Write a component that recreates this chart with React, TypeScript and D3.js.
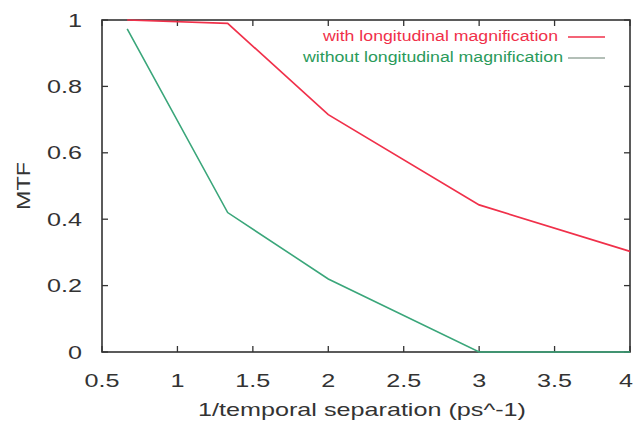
import React from "react";
import * as d3 from "d3";

const xValues = [0.667, 1.333, 2, 3, 4];
const withMag = [1.0, 0.99, 0.715, 0.443, 0.303];
const withoutMag = [0.973, 0.42, 0.22, 0.0, 0.0];
const xTicks = [0.5, 1, 1.5, 2, 2.5, 3, 3.5, 4];
const yTicks = [0, 0.2, 0.4, 0.6, 0.8, 1];
const seriesNames = ["with longitudinal magnification", "without longitudinal magnification"];

export default function App() {
  const W = 635, H = 425;
  const left = 102, right = 630, top = 20, bottom = 352;
  const x = d3.scaleLinear().domain([0.5, 4]).range([left, right]);
  const y = d3.scaleLinear().domain([0, 1]).range([bottom, top]);
  const line = d3.line<[number, number]>().x(d => x(d[0])).y(d => y(d[1]));
  const redPts = xValues.map((v, i) => [v, withMag[i]] as [number, number]);
  const greenPts = xValues.map((v, i) => [v, withoutMag[i]] as [number, number]);
  const axisColor = "#333";
  const tl = 6;
  const sx = 1.4;
  const font = "Liberation Sans, Arial, sans-serif";
  return (
    <svg width={W} height={H} style={{ position: "absolute", left: 0, top: 0, background: "#fff" }} fontFamily={font}>
      <rect x={0} y={0} width={W} height={H} fill="#fff" />
      {xTicks.map(t => (
        <g key={"xt" + t}>
          <line x1={x(t)} x2={x(t)} y1={bottom} y2={bottom - tl} stroke={axisColor} strokeWidth={1.3} />
          <line x1={x(t)} x2={x(t)} y1={top} y2={top + tl} stroke={axisColor} strokeWidth={1.3} />
          <text transform={`translate(${Math.min(x(t), 626)},387) scale(${sx},1)`} textAnchor="middle" fontSize={18} fill="#333">{t}</text>
        </g>
      ))}
      {yTicks.map(t => (
        <g key={"yt" + t}>
          <line x1={left} x2={left + tl} y1={y(t)} y2={y(t)} stroke={axisColor} strokeWidth={1.3} />
          <line x1={right} x2={right - tl} y1={y(t)} y2={y(t)} stroke={axisColor} strokeWidth={1.3} />
          <text transform={`translate(82,${y(t) + 6.5}) scale(${sx},1)`} textAnchor="end" fontSize={18} fill="#333">{t}</text>
        </g>
      ))}
      <rect x={left} y={top} width={right - left} height={bottom - top} fill="none" stroke={axisColor} strokeWidth={1.6} />
      <path d={line(greenPts) || ""} fill="none" stroke="#3aa67a" strokeWidth={1.6} />
      <path d={line(redPts) || ""} fill="none" stroke="#f0304a" strokeWidth={1.7} />
      <text x={558} y={41} textAnchor="end" fontSize={14} fill="#f0304a" textLength={235} lengthAdjust="spacingAndGlyphs">{seriesNames[0]}</text>
      <line x1={568} x2={605} y1={37} y2={37} stroke="#f0304a" strokeWidth={1.3} />
      <text x={563} y={62} textAnchor="end" fontSize={14} fill="#2a9a5a" textLength={260} lengthAdjust="spacingAndGlyphs">{seriesNames[1]}</text>
      <line x1={568} x2={605} y1={58} y2={58} stroke="#9aaa9f" strokeWidth={1.3} />
      <text transform={`translate(362,416) scale(${sx},1)`} textAnchor="middle" fontSize={18} fill="#333">1/temporal separation (ps^-1)</text>
      <text transform={`translate(30,186) rotate(-90) scale(1.3,1)`} textAnchor="middle" fontSize={18} fill="#333">MTF</text>
    </svg>
  );
}
